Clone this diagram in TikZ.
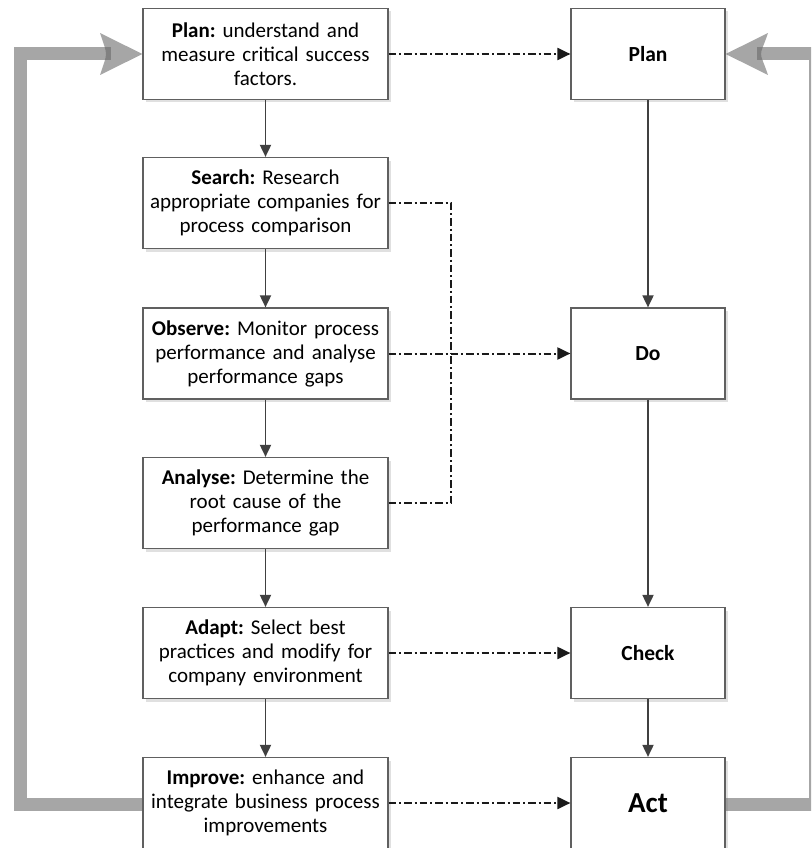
\documentclass[tikz,border=0pt]{standalone}
\usepackage{fontspec}
\setmainfont{Carlito}
\frenchspacing
\usetikzlibrary{arrows.meta,shadows}
\definecolor{boxline}{HTML}{606060}
\definecolor{darkarrow}{HTML}{404040}
\definecolor{dashcol}{HTML}{1A1A1A}
\definecolor{bandgray}{HTML}{666666}
\tikzset{
  leftbox/.style={draw=boxline, line width=1.2pt, fill=white, minimum width=245pt, minimum height=91pt, text width=240pt, align=center, inner sep=0pt,
    drop shadow={shadow xshift=3pt, shadow yshift=-3pt, fill=black!12, opacity=1},
    font=\fontsize{21}{24}\selectfont},
  rightbox/.style={draw=boxline, line width=1.2pt, fill=white, minimum width=154pt, minimum height=91pt, align=center, inner sep=0pt,
    drop shadow={shadow xshift=3pt, shadow yshift=-3pt, fill=black!12, opacity=1},
    font=\fontsize{21.5}{24}\selectfont\bfseries},
  flowarrow/.style={draw=darkarrow, line width=1.8pt, -{Triangle[length=12pt,width=11pt]}},
  dashdot/.style={draw=dashcol, line width=2pt, dash pattern=on 7.5pt off 3pt on 2pt off 3pt},
  dashdotarrow/.style={dashdot, -{Triangle[length=13pt,width=12pt]}},
  band/.style={draw=bandgray, line width=13pt, opacity=0.58, line join=miter, line cap=butt},
  bandhead/.style={fill=bandgray, opacity=0.58},
}
\begin{document}
\begin{tikzpicture}[x=1pt,y=-1pt]
\useasboundingbox (0,0) rectangle (811,848);
\clip (0,0) rectangle (811,848);

% left column
\node[leftbox] (lplan) at (265.5,54) {\textbf{Plan:} understand and\\measure critical success\\factors.};
\node[leftbox] (search) at (265.5,203) {\textbf{Search:} Research\\appropriate companies for\\process comparison};
\node[leftbox] (observe) at (265.5,353.5) {\textbf{Observe:} Monitor process\\performance and analyse\\performance gaps};
\node[leftbox] (analyse) at (265.5,503) {\textbf{Analyse:} Determine the\\root cause of the\\performance gap};
\node[leftbox] (adapt) at (265.5,653) {\textbf{Adapt:} Select best\\practices and modify for\\company environment};
\node[leftbox] (improve) at (265.5,803) {\textbf{Improve:} enhance and\\integrate business process\\improvements};

% right column
\node[rightbox] (rplan) at (648,54) {Plan};
\node[rightbox] (do) at (648,353.5) {Do};
\node[rightbox] (check) at (648,653) {Check};
\node[rightbox, font=\fontsize{29}{32}\selectfont\bfseries] (act) at (648,803) {Act};

% vertical flow arrows
\draw[flowarrow] (lplan) -- (search);
\draw[flowarrow] (search) -- (observe);
\draw[flowarrow] (observe) -- (analyse);
\draw[flowarrow] (analyse) -- (adapt);
\draw[flowarrow] (adapt) -- (improve);
\draw[flowarrow] (rplan) -- (do);
\draw[flowarrow] (do) -- (check);
\draw[flowarrow] (check) -- (act);

% dash-dot links
\coordinate (j) at (451,353.5);
\draw[dashdotarrow] (lplan.east) -- (rplan.west);
\draw[dashdot] (search.east) -| (j);
\draw[dashdot] (analyse.east) -| (j);
\draw[dashdotarrow] (observe.east) -- (do.west);
\draw[dashdotarrow] (adapt.east) -- (check.west);
\draw[dashdotarrow] (improve.east) -- (act.west);

% big gray feedback bands
\coordinate (ltop) at (111,53.5);
\draw[band] (ltop) -- (20.5,53.5) -- (20.5,804.5) -- (improve.west |- 0,804.5);
\fill[bandhead] (lplan.west) -- (100,33) .. controls (104,45) and (106,50) .. (106,54) .. controls (106,58) and (104,63) .. (100,75) -- cycle;

\coordinate (rtop) at (757,53.5);
\draw[band] (rtop) -- (815.5,53.5) -- (815.5,804.5) -- (act.east |- 0,804.5);
\fill[bandhead] (rplan.east) -- (768,33) .. controls (764,45) and (761,50) .. (761,54) .. controls (761,58) and (764,63) .. (768,75) -- cycle;
\end{tikzpicture}
\end{document}
